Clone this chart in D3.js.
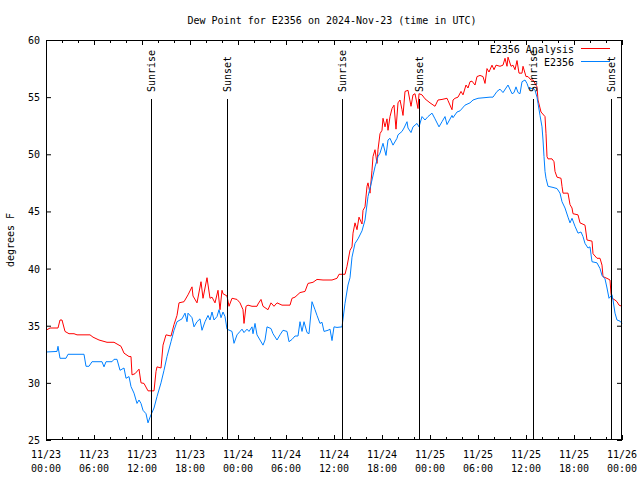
<!DOCTYPE html>
<html><head><meta charset="utf-8">
<script src="https://cdn.jsdelivr.net/npm/d3@7"></script>
<style>
html,body{margin:0;padding:0;background:#fff;}
text{font-family:"DejaVu Sans Mono","Liberation Mono",monospace;font-size:10px;fill:#000;}
</style></head>
<body><svg id="c" width="640" height="480"></svg>
<script>
// ---- data (hours since 2024-11-23 00:00 UTC) ----
const titleText = "Dew Point for E2356 on 2024-Nov-23 (time in UTC)";
const yLabel = "degrees F";
const seriesNames = ["E2356 Analysis", "E2356"];
const seriesColors = ["#ff0000", "#0080ff"];
const yTicks = [25, 30, 35, 40, 45, 50, 55, 60];
const xTickDates = ["11/23","11/23","11/23","11/23","11/24","11/24","11/24","11/24","11/25","11/25","11/25","11/25","11/26"];
const xTickTimes = ["00:00","06:00","12:00","18:00","00:00","06:00","12:00","18:00","00:00","06:00","12:00","18:00","00:00"];
const sunriseHours = [13.08, 36.96, 60.9];
const sunsetHours = [22.66, 46.66, 70.58];

const analysisHours = [0,0.5,1.5,1.75,2,2.375,2.875,3.5,3.875,5.5,5.875,6.625,7.625,8.5,9.375,9.75,10.375,10.625,10.75,11.125,11.625,11.875,12.25,12.75,13.5,13.75,13.875,14.375,14.625,15,15.625,16,16.375,16.625,17.25,17.75,18.25,18.375,18.875,19.375,19.625,20.125,20.5,20.75,21.125,21.5,21.75,22,22.125,22.625,22.875,23.25,23.875,24.25,24.625,24.75,25,25.25,25.75,26.375,26.5,26.875,27.125,27.75,28.125,28.5,28.875,29.5,30.5,30.75,31.125,31.75,32.375,32.75,33.375,33.875,34.625,35.75,36.375,36.625,37.375,37.625,38,38.25,38.375,38.625,38.875,39.125,39.5,39.625,39.875,40.125,40.25,40.5,40.75,40.875,41.125,41.375,41.5,41.75,42,42.125,42.375,42.625,42.75,43,43.25,43.5,43.75,44,44.25,44.5,44.625,44.875,45.25,45.625,45.875,46.125,46.5,46.625,47,47.375,48,48.625,49,49.5,50.125,50.25,50.75,50.875,51.125,51.5,51.875,52.125,52.5,52.75,53,53.25,53.625,53.875,54.25,54.625,54.875,55.125,55.375,55.75,56,56.25,56.75,57.125,57.375,57.625,57.75,58.125,58.375,58.625,58.875,59.125,59.5,59.625,60,60.25,60.625,60.875,61.375,61.5,61.875,62.375,62.5,62.625,62.75,63.25,63.5,63.625,63.875,64.375,64.5,64.625,65.25,65.5,65.75,65.875,66.5,66.75,67.375,67.625,68.25,68.375,68.875,69.25,69.5,69.625,70.25,70.5,70.625,70.75,71.125,71.375,71.625,72];
const analysisValues = [34.6,34.8,34.8,35.5,35.5,34.5,34.3,34.3,34.2,34.2,34.0,33.75,33.55,33.55,33.2,32.6,32.3,32.3,30.7,30.8,31.2,30.0,29.95,29.3,29.3,31.0,31.4,31.3,33.3,34.2,34.1,35.1,35.9,37.0,37.1,37.7,38.4,37.6,37.0,38.85,37.4,39.2,37.4,37.5,37.0,38.1,36.4,38.1,37.8,37.6,36.7,37.4,37.3,37.0,36.4,35.2,36.7,36.8,36.7,36.7,36.9,37.3,36.7,36.4,37.0,36.7,37.0,36.8,36.8,37.4,37.5,37.9,38.0,38.7,38.8,39.05,39.0,39.0,39.15,39.5,39.5,40.2,41.6,41.9,43.1,44.0,43.4,44.5,43.9,45.1,45.4,47.2,47.5,46.6,48.6,49.8,50.4,49.2,50.4,51.8,52.1,53.15,52.4,53.1,52.1,53.3,54.0,54.3,52.2,54.5,54.75,53.9,53.4,55.5,55.6,54.2,55.2,55.3,54.0,55.3,55.2,54.85,54.5,54.2,54.75,54.8,54.9,54.7,53.9,54.75,54.9,55.0,55.5,55.2,56.06,55.8,56.35,56.4,56.06,56.8,56.9,56.8,56.2,57.5,57.2,57.8,57.4,57.8,57.7,57.8,58.4,57.7,58.5,57.7,57.8,57.4,58.2,57.1,57.1,57.7,56.8,56.8,56.5,56.5,55.9,54.75,53.7,53.3,51.8,49.8,49.6,49.6,49.35,48.5,48.0,47.9,47.2,46.6,46.6,45.6,45.3,44.8,44.7,44.0,43.8,42.5,42.4,41.3,40.9,40.9,40.3,39.3,39.1,39.0,37.8,37.4,37.25,37.1,36.8,36.7];

const stationHours = [0,1.375,1.5,1.75,2.5,2.75,4.75,5,5.375,5.75,7,7.25,7.5,8.25,8.5,8.875,9.25,9.75,10,10.375,10.625,11,11.375,11.625,11.875,12.125,12.5,12.75,13,13.5,13.875,14.375,14.75,15.125,15.625,16,16.375,17,17.375,17.625,17.75,18.25,18.5,18.875,19.25,19.5,19.875,20.25,20.5,20.75,21,21.375,21.625,21.875,22.125,22.375,22.625,23.25,23.5,23.875,24.25,24.5,24.75,25.125,25.375,25.75,25.875,26.125,26.375,26.75,27.125,27.375,27.625,28.125,28.375,28.875,29.25,29.625,30.125,30.375,30.75,31.125,31.5,31.75,32,32.25,32.625,32.875,33.25,33.625,33.875,34.25,34.5,34.75,35.25,35.5,35.75,36,36.375,37,37.375,37.75,38,38.25,38.625,39,39.5,39.875,40.25,40.75,41.125,41.5,41.75,42.125,42.5,42.75,43,43.375,43.875,44,44.5,44.75,45.125,45.25,45.625,45.875,46.375,46.625,47,47.375,47.75,48.25,48.625,49.125,49.5,49.875,50.125,50.75,50.875,51.375,51.75,52.375,53,53.375,54,55.5,55.875,56.375,56.75,57.125,57.5,57.75,58.25,58.5,58.75,59,59.25,59.5,59.875,60.125,60.375,60.875,61.125,61.375,61.5,61.75,62,62.125,62.25,62.375,62.5,62.75,63.375,63.875,64.25,64.5,64.875,65.25,65.5,65.75,66.125,66.5,66.875,67.125,67.375,67.75,68,68.25,68.875,69.25,69.5,69.875,70.125,70.375,70.75,70.875,71.125,71.375,71.75,72];
const stationValues = [32.7,32.75,33.2,32.15,32.15,32.5,32.5,31.45,31.45,31.85,31.85,31.4,31.85,31.85,32.06,32.06,31.1,31.3,30.4,30.55,29.67,29.1,28.2,28.5,28.2,27.6,27.3,26.5,27.0,27.8,28.8,30.0,31.1,32.3,33.6,34.6,35.35,35.6,36.1,35.35,36.1,35.7,34.9,35.35,35.6,34.6,35.35,35.9,35.5,36.2,35.5,35.8,36.4,35.7,36.2,35.8,34.7,34.5,33.46,34.2,34.5,34.7,34.4,34.7,34.5,34.9,34.3,35.2,34.2,33.75,33.3,33.75,34.9,34.75,34.3,33.75,34.2,34.6,34.5,33.6,33.8,34.1,34.1,35.35,34.5,35.35,34.4,34.3,37.1,36.4,35.9,35.2,35.3,34.5,34.6,34.7,33.7,34.9,34.85,34.9,36.96,38.56,39.2,41.0,42.2,42.6,43.3,44.25,46.3,47.75,48.9,49.8,50.1,50.96,49.9,51.25,51.4,50.8,51.4,51.7,52.0,52.3,52.85,52.3,51.9,52.4,52.7,52.4,53.3,53.0,53.3,53.6,53.1,52.4,52.85,53.3,52.6,53.4,53.2,53.7,53.8,54.3,54.5,54.75,54.9,55.0,55.0,55.5,55.7,55.4,55.8,56.06,55.3,55.4,55.9,55.4,55.3,56.35,56.5,56.2,55.7,55.8,55.6,55.0,54.46,53.4,52.4,51.25,49.8,48.5,47.9,47.2,47.1,47.0,46.6,45.85,45.3,44.5,44.0,44.4,43.7,43.1,43.2,42.8,42.2,41.8,41.9,40.6,40.5,40.0,39.4,39.1,38.3,37.4,37.7,37.25,36.1,35.5,35.4,35.2];

// ---- chart ----
const start = Date.UTC(2024, 10, 23, 0, 0);
const toDate = h => new Date(start + h * 3600e3);
const L = 46, R = 622, T = 40, B = 440;
const svg = d3.select("#c");
const x = d3.scaleUtc().domain([toDate(0), toDate(72)]).range([L, R]);
const y = d3.scaleLinear().domain([25, 60]).range([B, T]);

const majorX = d3.range(0, 73, 6).map(toDate);
const minorX = d3.range(0, 73, 2).filter(h => h % 6 !== 0).map(toDate);

function styleAxis(g){ g.select(".domain").remove(); g.selectAll("line").attr("stroke","#000"); g.selectAll("text").remove(); }

svg.append("g").attr("transform",`translate(0,${B})`).call(d3.axisBottom(x).tickValues(majorX).tickSize(-5).tickFormat("")).call(styleAxis);
svg.append("g").attr("transform",`translate(0,${B})`).call(d3.axisBottom(x).tickValues(minorX).tickSize(-3).tickFormat("")).call(styleAxis);
svg.append("g").attr("transform",`translate(0,${T})`).call(d3.axisTop(x).tickValues(majorX).tickSize(-5).tickFormat("")).call(styleAxis);
svg.append("g").attr("transform",`translate(0,${T})`).call(d3.axisTop(x).tickValues(minorX).tickSize(-3).tickFormat("")).call(styleAxis);
svg.append("g").attr("transform",`translate(${L},0)`).call(d3.axisLeft(y).tickValues(yTicks).tickSize(-5).tickFormat("")).call(styleAxis);
svg.append("g").attr("transform",`translate(${R},0)`).call(d3.axisRight(y).tickValues(yTicks).tickSize(-5).tickFormat("")).call(styleAxis);

// y tick labels
svg.append("g").selectAll("text").data(yTicks).join("text")
  .attr("x", L - 6).attr("y", d => y(d) + 4).attr("text-anchor","end").text(d => d);
// x tick labels
const xl = svg.append("g").selectAll("text").data(majorX).join("text")
  .attr("text-anchor","middle");
xl.append("tspan").attr("x", d => x(d)).attr("y", B + 18).text((d,i) => xTickDates[i]);
xl.append("tspan").attr("x", d => x(d)).attr("y", B + 32).text((d,i) => xTickTimes[i]);

// title & y label
svg.append("text").attr("x", 332).attr("y", 24).attr("text-anchor","middle").text(titleText);
svg.append("text").attr("transform",`translate(14,${(T+B)/2}) rotate(-90)`).attr("text-anchor","middle").text(yLabel);

// series
const line = d3.line().x(d => x(toDate(d[0]))).y(d => y(d[1]));
const sData = [d3.zip(analysisHours, analysisValues), d3.zip(stationHours, stationValues)];
svg.append("g").selectAll("path").data(sData).join("path")
  .attr("d", line).attr("fill","none").attr("stroke",(d,i) => seriesColors[i]).attr("stroke-width",1);

// sunrise / sunset
const events = sunriseHours.map(h => ({h, t:"Sunrise"})).concat(sunsetHours.map(h => ({h, t:"Sunset"})));
const ev = svg.append("g").selectAll("g").data(events).join("g");
ev.append("line").attr("x1", d => Math.round(x(toDate(d.h))) + 0.5).attr("x2", d => Math.round(x(toDate(d.h))) + 0.5)
  .attr("y1", 99).attr("y2", B).attr("stroke","#000").attr("stroke-width",1);
ev.append("text").attr("transform", d => `translate(${Math.round(x(toDate(d.h))) + 4},92) rotate(-90)`)
  .attr("text-anchor","start").text(d => d.t);

// legend
const lg = svg.append("g").selectAll("g").data(seriesNames).join("g");
lg.append("text").attr("x", 574).attr("y", (d,i) => 53 + i*13).attr("text-anchor","end").text(d => d);
lg.append("line").attr("x1", 581).attr("x2", 610).attr("y1",(d,i) => 48.5 + i*13).attr("y2",(d,i) => 48.5 + i*13)
  .attr("stroke",(d,i) => seriesColors[i]).attr("stroke-width",1);

// border
svg.append("rect").attr("x", L + 0.5).attr("y", T + 0.5).attr("width", R - L - 1).attr("height", B - T - 1)
  .attr("fill","none").attr("stroke","#000");
</script></body></html>
